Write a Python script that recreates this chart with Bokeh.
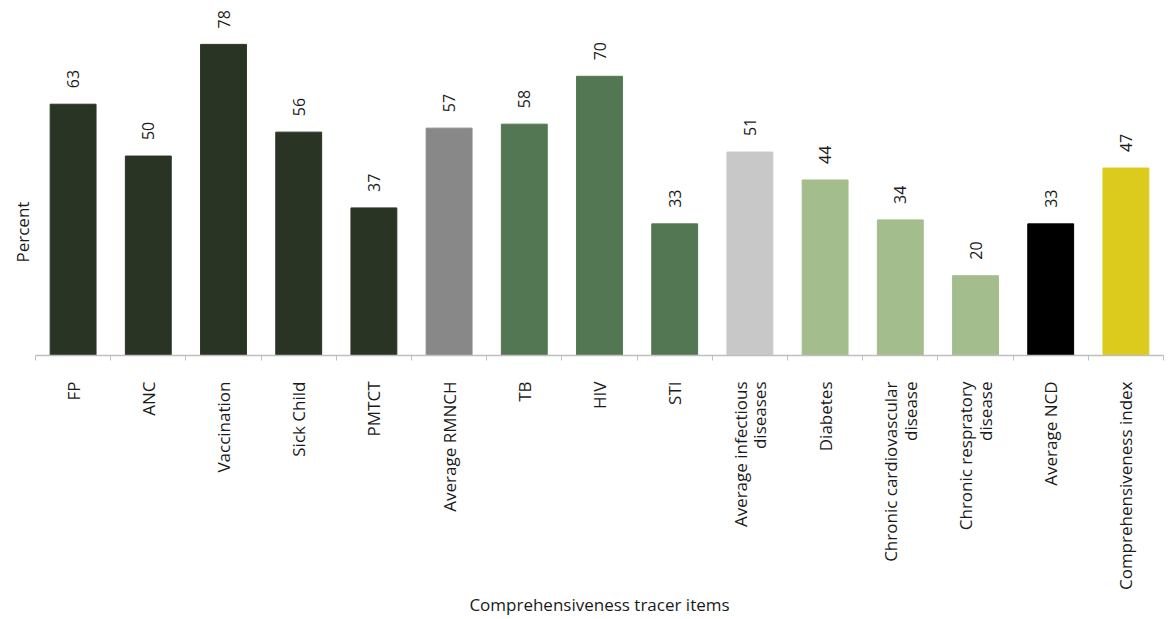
import math
from bokeh.plotting import figure
from bokeh.models import Range1d, FixedTicker, ColumnDataSource, Title
from bokeh.core.properties import value
from bokeh.embed import file_html
from bokeh.resources import INLINE

categories = ["FP", "ANC", "Vaccination", "Sick Child", "PMTCT", "Average RMNCH",
              "TB", "HIV", "STI", "Average infectious\ndiseases", "Diabetes",
              "Chronic cardiovascular\ndisease", "Chronic respratory\ndisease",
              "Average NCD", "Comprehensiveness index"]
values = [63, 50, 78, 56, 37, 57, 58, 70, 33, 51, 44, 34, 20, 33, 47]
colors = ["#2a3424", "#2a3424", "#2a3424", "#2a3424", "#2a3424", "#888888",
          "#537752", "#537752", "#537752", "#c8c8c8", "#a4bd8c", "#a4bd8c",
          "#a4bd8c", "#000000", "#dccb1d"]
x_title = "Comprehensiveness tracer items"
y_title = "Percent"

FONT = "Open Sans"
n = len(categories)
xs = [i + 0.5 for i in range(n)]

src = ColumnDataSource(dict(x=xs, top=values, color=colors,
                            label=[str(v) for v in values]))

p = figure(width=1168, height=619, output_backend="svg", toolbar_location=None,
           x_range=Range1d(0, n), y_range=Range1d(0, 89),
           min_border_left=35, min_border_right=5, min_border_top=0,
           min_border_bottom=263)
p.outline_line_color = None
p.grid.grid_line_color = None
p.background_fill_color = "white"
p.border_fill_color = "white"

p.vbar(x="x", top="top", width=0.61, bottom=0, color="color", source=src)
p.text(x="x", y="top", text="label", source=src, angle=math.pi / 2,
       text_align="left", text_baseline="middle", y_offset=-16,
       text_font=value(FONT), text_font_size="16px", text_color="#1a1a1a")

xa = p.xaxis[0]
xa.ticker = FixedTicker(ticks=xs, minor_ticks=list(range(n + 1)))
xa.major_label_overrides = {x: c for x, c in zip(xs, categories)}
xa.major_label_orientation = math.pi / 2
xa.major_tick_line_color = None
xa.major_tick_out = 0
xa.major_tick_in = 0
xa.minor_tick_line_color = "#bfbfbf"
xa.minor_tick_in = 0
xa.minor_tick_out = 5
xa.axis_line_color = "#bfbfbf"
xa.axis_line_width = 1.5
xa.major_label_standoff = 21
xa.major_label_text_font = FONT
xa.major_label_text_font_size = "17px"
xa.major_label_text_line_height = 0.85
xa.major_label_text_color = "#1a1a1a"
xa.axis_label = x_title
xa.axis_label_text_font = FONT
xa.axis_label_text_font_size = "17px"
xa.axis_label_text_font_style = "normal"
xa.axis_label_text_color = "#1a1a1a"
xa.axis_label_standoff = 0

p.yaxis.visible = False
p.add_layout(Title(text=y_title, align="left", offset=93,
                   text_font=FONT, text_font_size="17px",
                   text_font_style="normal", text_color="#1a1a1a",
                   standoff=4), "left")

open("out.html", "w").write(file_html(p, INLINE))
